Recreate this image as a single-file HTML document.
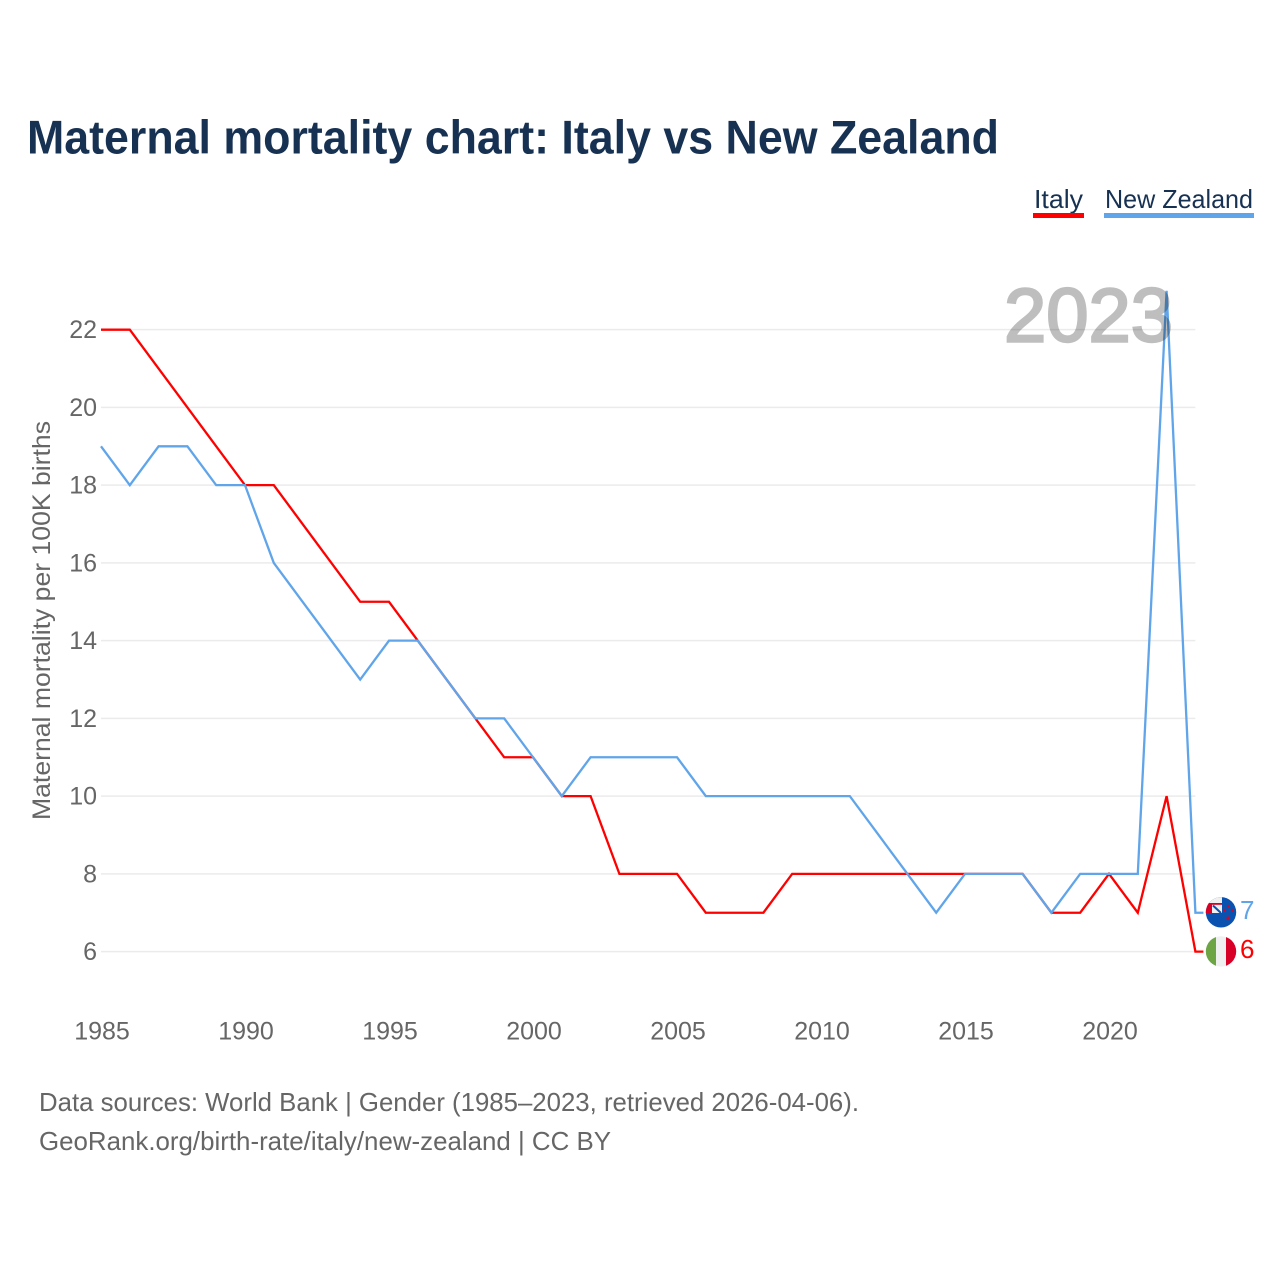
<!DOCTYPE html>
<html lang="en">
<head>
<meta charset="utf-8">
<title>Maternal mortality chart: Italy vs New Zealand</title>
<style>
html,body{margin:0;padding:0;background:#fff;width:1280px;height:1280px;overflow:hidden}
svg{display:block}
text{font-family:"Liberation Sans",sans-serif}
</style>
</head>
<body>
<svg id="chart" xmlns="http://www.w3.org/2000/svg" width="1280" height="1280" viewBox="0 0 1280 1280">
  <defs>
    <clipPath id="clip-nz"><circle cx="1221" cy="912.3" r="15.2"/></clipPath>
    <clipPath id="clip-it"><circle cx="1221" cy="951.4" r="15.2"/></clipPath>
  </defs>
  <text x="27" y="153.5" font-size="47" font-weight="700" fill="#173152" textLength="972" lengthAdjust="spacingAndGlyphs">Maternal mortality chart: Italy vs New Zealand</text>

  <g>
    <g>
      <text x="1034" y="208" font-size="26" fill="#173152" textLength="49" lengthAdjust="spacingAndGlyphs">Italy</text>
      <rect x="1033" y="213" width="51" height="5" fill="#ff0000"/>
    </g>
    <g>
      <text x="1105" y="208" font-size="26" fill="#173152" textLength="148" lengthAdjust="spacingAndGlyphs">New Zealand</text>
      <rect x="1104" y="213" width="150" height="5" fill="#60a5ea"/>
    </g>
  </g>

  <g id="grid"></g>
  <g id="y-ticks"></g>
  <g id="x-ticks"></g>
  <text transform="translate(50,820) rotate(-90)" font-size="25" fill="#666666" textLength="399" lengthAdjust="spacingAndGlyphs">Maternal mortality per 100K births</text>

  <g id="series"></g>

  <text id="year-label" x="1004" y="341.5" font-size="76" font-weight="400" fill="#000000" stroke="#000000" stroke-width="2.4" opacity="0.25" textLength="169" lengthAdjust="spacingAndGlyphs">2023</text>

  <g clip-path="url(#clip-nz)">
    <rect x="1205" y="896" width="32" height="32" fill="#0a52b0"/>
    <rect x="1205" y="896" width="17" height="17" fill="#f0f0f0"/>
    <rect x="1205" y="903" width="7" height="10" fill="#d80027"/>
    <rect x="1212" y="903" width="10" height="1.8" fill="#d80027"/>
    <path d="M1213 905.5L1221 913" stroke="#0a52b0" stroke-width="2"/>
    <circle cx="1228" cy="906" r="1.2" fill="#d80027"/>
    <circle cx="1232" cy="910" r="1.2" fill="#d80027"/>
    <circle cx="1224.5" cy="910" r="1.2" fill="#d80027"/>
    <circle cx="1228" cy="918" r="1.6" fill="#d80027"/>
  </g>
  <g clip-path="url(#clip-it)">
    <rect x="1205" y="936" width="11" height="31" fill="#6da544"/>
    <rect x="1216" y="936" width="10" height="31" fill="#f0f0f0"/>
    <rect x="1226" y="936" width="11" height="31" fill="#d80027"/>
  </g>
  <text id="end-nz" x="1240" y="919" font-size="26" fill="#60a5ea"></text>
  <text id="end-it" x="1240" y="958" font-size="26" fill="#ff0000"></text>

  <g>
    <text x="39" y="1111" font-size="26" fill="#666666" textLength="820" lengthAdjust="spacingAndGlyphs">Data sources: World Bank | Gender (1985–2023, retrieved 2026-04-06).</text>
    <text x="39" y="1150" font-size="26" fill="#666666" textLength="572" lengthAdjust="spacingAndGlyphs">GeoRank.org/birth-rate/italy/new-zealand | CC BY</text>
  </g>
</svg>
<script>
const years = [1985,1986,1987,1988,1989,1990,1991,1992,1993,1994,1995,1996,1997,1998,1999,2000,2001,2002,2003,2004,2005,2006,2007,2008,2009,2010,2011,2012,2013,2014,2015,2016,2017,2018,2019,2020,2021,2022,2023];
const italyValues = [22,22,21,20,19,18,18,17,16,15,15,14,13,12,11,11,10,10,8,8,8,7,7,7,8,8,8,8,8,8,8,8,8,7,7,8,7,10,6];
const newZealandValues = [19,18,19,19,18,18,16,15,14,13,14,14,13,12,12,11,10,11,11,11,11,10,10,10,10,10,10,9,8,7,8,8,8,7,8,8,8,23,7];
const yTickValues = [6,8,10,12,14,16,18,20,22];
const xTickValues = [1985,1990,1995,2000,2005,2010,2015,2020];

const NS = 'http://www.w3.org/2000/svg';
function xScale(year){ return 101 + (year - 1985) * 28.8; }
function yScale(value){ return 951.6 - (value - 6) * 38.87; }

const gridLayer = document.getElementById('grid');
const yLayer = document.getElementById('y-ticks');
const xLayer = document.getElementById('x-ticks');
const seriesLayer = document.getElementById('series');

yTickValues.forEach(function(v){
  const line = document.createElementNS(NS,'line');
  
  
  line.setAttribute('x1', xScale(1985));
  line.setAttribute('x2', xScale(2023));
  line.setAttribute('y1', yScale(v));
  line.setAttribute('y2', yScale(v));
  line.setAttribute('stroke', '#ebebeb');
  line.setAttribute('stroke-width', '1.5');
  gridLayer.appendChild(line);

  const label = document.createElementNS(NS,'text');
  
  
  label.setAttribute('x', 97);
  label.setAttribute('y', yScale(v) + 8.5);
  label.setAttribute('text-anchor', 'end');
  label.setAttribute('font-size', '25');
  label.setAttribute('fill', '#666666');
  label.textContent = v;
  yLayer.appendChild(label);
});

xTickValues.forEach(function(y){
  const label = document.createElementNS(NS,'text');
  
  
  label.setAttribute('x', xScale(y) + 1);
  label.setAttribute('y', 1039.5);
  label.setAttribute('text-anchor', 'middle');
  label.setAttribute('font-size', '25');
  label.setAttribute('fill', '#666666');
  label.textContent = y;
  xLayer.appendChild(label);
});

function drawSeries(values, color){
  let d = '';
  values.forEach(function(v,i){
    d += (i ? 'L' : 'M') + xScale(years[i]).toFixed(2) + ' ' + yScale(v).toFixed(2);
  });
  d += 'H' + (xScale(years[years.length - 1]) + 8).toFixed(2);
  const path = document.createElementNS(NS,'path');
  path.setAttribute('d', d);
  path.setAttribute('fill', 'none');
  path.setAttribute('stroke', color);
  path.setAttribute('stroke-width', '2.3');
  path.setAttribute('stroke-linejoin', 'miter');
  return path;
}

const italyLine = drawSeries(italyValues, '#ff0000');


seriesLayer.appendChild(italyLine);

const nzLine = drawSeries(newZealandValues, '#60a5ea');


seriesLayer.appendChild(nzLine);

document.getElementById('end-nz').textContent = newZealandValues[newZealandValues.length - 1];
document.getElementById('end-it').textContent = italyValues[italyValues.length - 1];
document.getElementById('year-label').textContent = years[years.length - 1];
</script>
</body>
</html>
